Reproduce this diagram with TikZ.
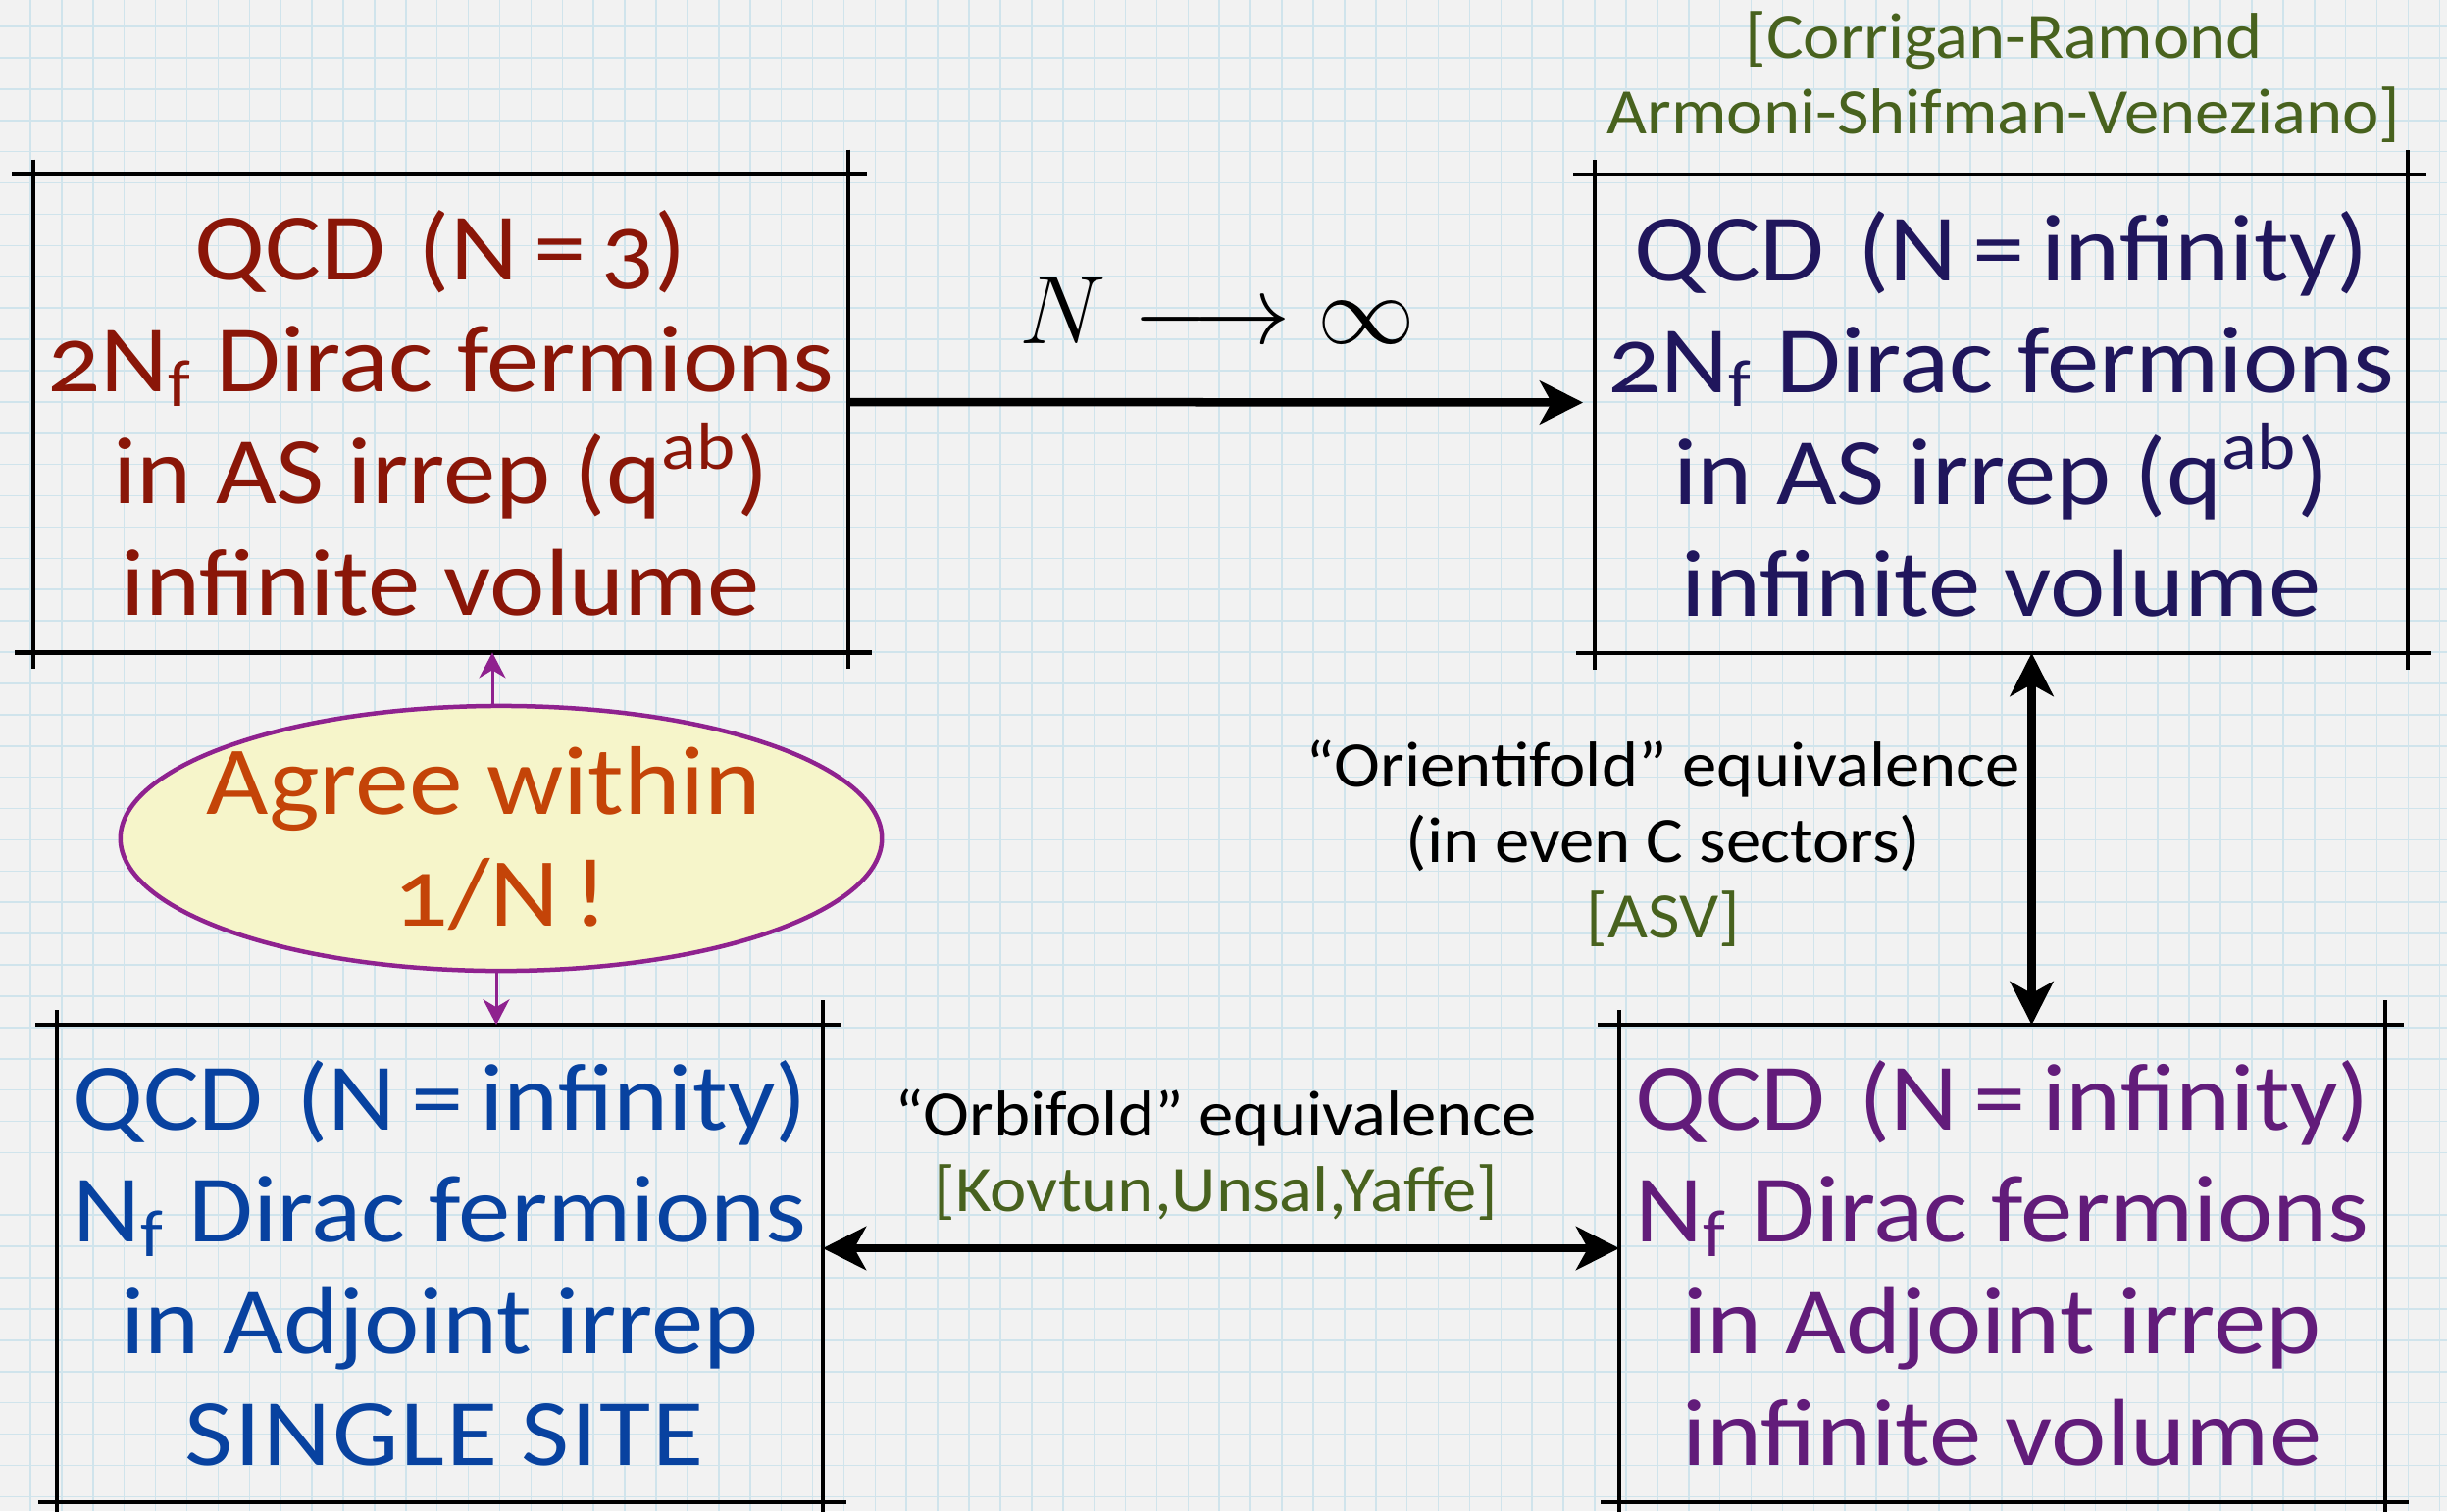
\documentclass[tikz,border=0pt]{standalone}
\usepackage{fix-cm}
\usepackage{fontspec}
\setmainfont{Carlito}[Numbers=OldStyle, FakeStretch=1.07]
\newfontfamily\boxfont{Carlito}[Numbers=OldStyle, FakeStretch=1.1]
\usetikzlibrary{arrows.meta,shapes.geometric,calc}
\definecolor{bgc}{RGB}{242,242,242}
\definecolor{gridc}{RGB}{208,228,236}
\definecolor{tlc}{RGB}{138,22,8}
\definecolor{trc}{RGB}{32,22,92}
\definecolor{blc}{RGB}{8,66,160}
\definecolor{brc}{RGB}{98,28,122}
\definecolor{citec}{RGB}{72,98,30}
\definecolor{ellfill}{RGB}{246,245,202}
\definecolor{elldraw}{RGB}{143,34,143}
\definecolor{elltext}{RGB}{196,68,8}
\tikzset{
  boxline/.style={line width=1.3pt, black},
  qbox/.style={rectangle, inner sep=0pt, align=center,
    font=\boxfont\fontsize{27.6}{32.4}\selectfont},
  lab/.style={inner sep=0pt, align=center, font=\fontsize{18.8}{21.9}\selectfont},
  thickarrow/.style={line width=0.085cm, -{Stealth[length=0.44cm,width=0.44cm,inset=0.12cm]}},
  thickdouble/.style={line width=0.085cm, {Stealth[length=0.44cm,width=0.44cm,inset=0.12cm]}-{Stealth[length=0.44cm,width=0.44cm,inset=0.12cm]}},
  purplearrow/.style={line width=0.03cm, elldraw, -{Stealth[length=0.26cm,width=0.27cm,inset=0.08cm]}},
}
\newcommand{\skbox}[1]{%
  \draw[boxline] ([xshift=-0.22cm]#1.north west) -- ([xshift=0.19cm]#1.north east);
  \draw[boxline] ([xshift=-0.19cm]#1.south west) -- ([xshift=0.24cm]#1.south east);
  \draw[boxline] ([yshift=0.15cm]#1.north west) -- ([yshift=-0.17cm]#1.south west);
  \draw[boxline] ([yshift=0.25cm]#1.north east) -- ([yshift=-0.17cm]#1.south east);
}
\newcommand{\qeq}{\,=\,}
\begin{document}
\begin{tikzpicture}[x=0.01cm,y=-0.01cm]
\clip (0,0) rectangle (2495,1541);
\fill[bgc] (0,0) rectangle (2495,1541);
\foreach \i in {0,...,78} { \draw[gridc, line width=0.45pt] ({31+31.9*\i},0) -- ({31+31.9*\i},1541); }
\foreach \j in {0,...,48} { \draw[gridc, line width=0.45pt] (0,{27+31.9*\j}) -- (2495,{27+31.9*\j}); }

% boxes
\node[qbox, text=tlc, minimum width=8.29cm, minimum height=4.86cm] (tl) at (449.5,421.5)
  {QCD\hspace{0.1em} (N\qeq 3)\\2N\textsubscript{f} Dirac fermions\\in AS irrep (q\textsuperscript{ab})\\infinite volume};
\node[qbox, text=trc, minimum width=8.27cm, minimum height=4.86cm] (tr) at (2040.5,422)
  {QCD\hspace{0.1em} (N\qeq infinity)\\2N\textsubscript{f} Dirac fermions\\in AS irrep (q\textsuperscript{ab})\\infinite volume};
\node[qbox, text=blc, minimum width=7.79cm, minimum height=4.85cm] (bl) at (448.5,1288.5)
  {QCD\hspace{0.1em} (N\qeq infinity)\\N\textsubscript{f} Dirac fermions\\in Adjoint irrep\\\hspace{0.1em}S\kern0.02em I\kern0.02em N\kern0.02em G\kern0.02em L\kern0.02em E S\kern0.02em I\kern0.02em T\kern0.02em E};
\node[qbox, text=brc, minimum width=7.79cm, minimum height=4.85cm] (br) at (2041.5,1288.5)
  {QCD\hspace{0.1em} (N\qeq infinity)\\N\textsubscript{f} Dirac fermions\\in Adjoint irrep\\infinite volume};
\skbox{tl}
\skbox{tr}
\skbox{bl}
\skbox{br}

% ellipse
\node[ellipse, draw=elldraw, fill=ellfill, line width=0.045cm, inner xsep=-1cm, inner ysep=-0.6cm,
  minimum width=7.76cm, minimum height=2.70cm, align=center, text=elltext,
  font=\boxfont\fontsize{28.3}{32.4}\selectfont] (ell) at (511,855) {Agree within\hspace*{0.35cm}\\1/N\kern0.15em!};

% labels
\node[lab, text=citec] (cite) at (2043,79) {[Corrigan-Ramond\\Armoni-Shifman-Veneziano]};
\node[inner sep=0pt, anchor=base, font=\fontsize{28.3}{32}\selectfont] (nlim) at (1241,350) {$N\longrightarrow\infty$};
\node[lab] (orient) at (1696,860) {“Orientifold” equivalence\\(in even C sectors)\\\textcolor{citec}{[ASV]}};
\node[lab] (orbi) at (1240,1178) {“Orbifold” equivalence\\\textcolor{citec}{[Kovtun,Unsal,Yaffe]}};

% connectors
\draw[thickarrow, shorten >=0.12cm] ([yshift=0.115cm]tl.east) -- ([yshift=0.115cm]tr.west);
\draw[thickdouble] ([xshift=0.31cm]tr.south) -- ([xshift=0.31cm]tr.south |- br.north);
\draw[thickdouble] ([yshift=0.155cm]bl.east) -- ([yshift=0.155cm]br.west);
\draw[purplearrow] ([xshift=-0.09cm]ell.north) -- ([xshift=-0.09cm]ell.north |- tl.south);
\draw[purplearrow] ([xshift=-0.05cm]ell.south) -- ([xshift=-0.05cm]ell.south |- bl.north);
\end{tikzpicture}
\end{document}
